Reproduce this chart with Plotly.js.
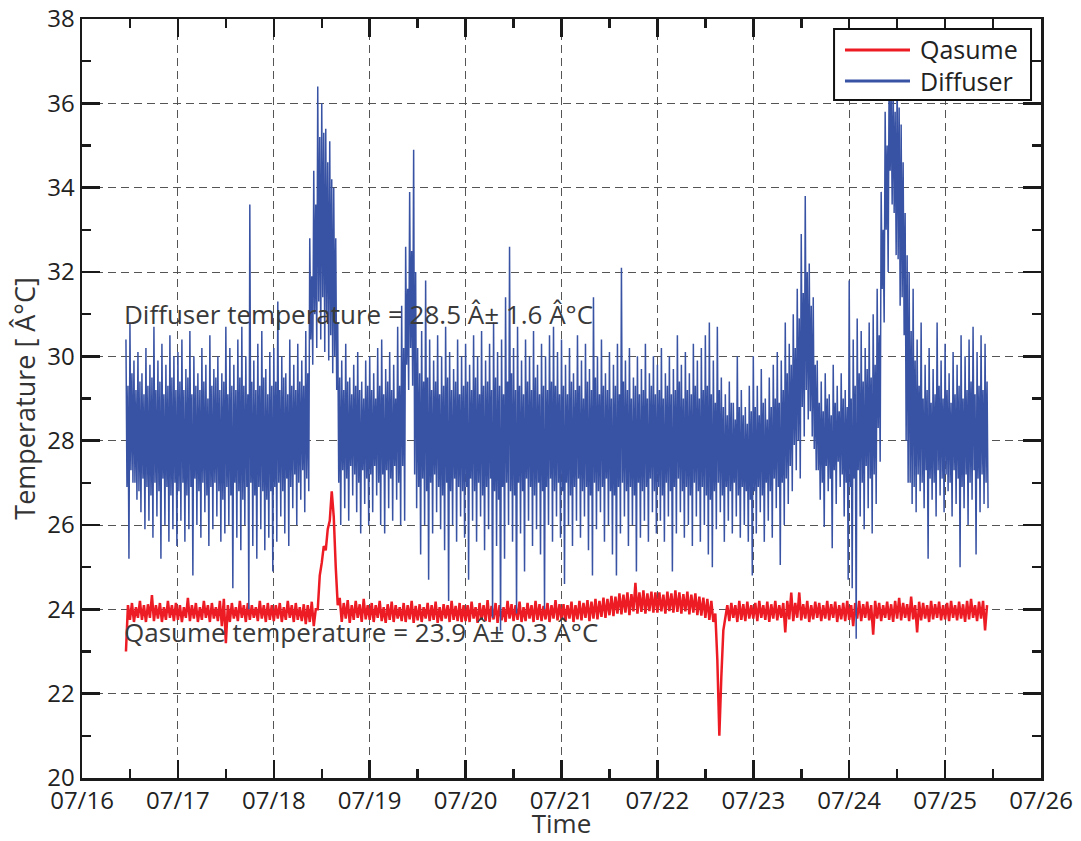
<!DOCTYPE html>
<html><head><meta charset="utf-8">
<script src="https://cdn.plot.ly/plotly-3.0.1.min.js"></script>
<style>body{margin:0;background:#fff}</style>
</head><body><div id="chart" style="width:1081px;height:841px"></div>
<script>
// Hourly samples starting 07/16 11:00 (one entry per hour, 216 hours)
const startTime = Date.UTC(2010, 6, 16, 11, 0, 0);
const stepHours = 1;

// Diffuser: per hour, the extreme high / low readings and the edges of the dense core
const diffuserHi = [
 30.4,30.8,29.9,30.1,29.6,30.2,29.8,30.7,29.9,30.3,29.8,30.5,30.0,
 30.1,30.4,29.7,30.6,30.0,29.6,30.2,29.8,30.5,29.7,30.0,29.6,30.7,30.2,29.8,30.4,30.7,30.0,33.6,29.9,30.3,30.6,29.7,30.1,
 30.2,31.3,30.0,29.6,30.4,29.8,30.3,29.9,30.6,32.8,34.4,36.4,36.0,35.4,35.1,34.0,30.8,29.9,30.3,29.5,29.8,30.1,29.4,29.9,
 30.0,29.6,30.2,30.4,29.7,30.1,29.8,30.7,31.2,32.6,33.9,34.9,30.2,30.6,31.8,30.4,29.9,30.5,30.0,30.7,30.1,29.7,30.4,30.0,
 30.3,29.8,30.5,30.0,30.6,29.9,30.3,30.8,30.1,30.4,31.4,32.6,30.2,30.7,29.9,30.4,30.0,30.6,29.8,30.3,30.0,30.5,30.7,30.1,
 30.4,29.8,30.2,29.6,30.5,29.9,30.3,29.7,31.4,30.0,30.4,29.6,30.1,29.8,30.3,32.1,29.9,30.2,29.5,30.0,29.7,30.3,29.6,30.0,
 29.8,30.2,29.6,30.0,29.7,30.5,29.8,30.1,29.6,30.3,29.9,30.2,30.5,30.8,29.9,30.7,29.5,29.1,29.4,28.9,30.0,29.2,28.8,29.3,
 30.0,29.3,29.7,29.0,29.5,29.8,30.1,29.9,30.8,30.3,31.0,31.6,32.9,33.8,32.2,31.4,29.9,29.4,29.6,29.1,29.8,29.3,29.6,29.2,
 31.8,30.4,30.9,30.6,30.2,30.8,31.0,31.6,33.9,35.8,36.9,36.5,36.7,35.5,33.4,32.0,31.6,30.4,30.8,29.8,30.2,29.7,30.8,29.9,
 30.3,29.6,30.1,29.8,30.5,30.0,30.4,30.7,30.1,30.5,30.3
];
const diffuserCoreLo = [
 26.9,27.3,27.0,26.8,27.1,26.9,26.7,27.0,26.8,27.1,26.9,26.7,27.0,
 26.8,27.0,26.7,26.9,27.1,26.8,27.0,26.7,26.9,27.0,26.8,26.6,26.9,26.7,27.0,26.8,26.6,26.9,27.0,26.7,26.9,26.8,26.6,26.8,
 26.9,27.0,26.8,27.1,26.9,27.2,27.0,27.3,27.1,30.4,31.0,31.3,31.4,31.0,30.5,30.0,27.0,27.3,27.1,27.4,27.2,27.0,27.3,27.1,
 27.2,27.4,27.0,27.2,27.3,27.1,27.4,27.0,27.4,29.8,30.2,27.2,26.9,27.1,26.8,27.0,27.2,26.9,26.7,27.0,26.8,27.1,26.9,26.8,
 26.9,27.1,26.8,27.0,26.7,26.9,27.1,26.8,26.6,26.9,27.0,26.8,26.7,27.0,26.8,27.1,26.9,26.7,27.0,26.8,26.9,27.1,26.8,27.0,
 26.8,27.0,26.7,26.9,27.1,26.8,26.9,26.7,27.0,26.8,26.9,27.1,26.8,26.7,26.9,27.0,26.8,26.9,26.7,27.0,26.8,26.9,27.1,26.8,
 26.9,26.7,27.0,26.8,26.9,27.1,26.8,26.9,26.7,27.0,26.8,26.9,26.7,26.6,26.8,27.0,26.7,26.9,26.8,27.0,26.7,26.9,26.8,26.6,
 26.8,26.9,26.7,27.0,26.8,27.1,26.9,27.0,27.1,27.4,27.9,28.0,28.8,29.2,28.7,27.8,27.3,27.0,27.4,27.1,27.3,27.5,27.2,27.0,
 26.9,27.1,27.3,27.0,27.4,27.1,27.2,28.3,31.6,33.0,34.4,33.4,32.3,31.4,28.0,27.0,26.9,27.2,27.0,27.3,27.1,27.0,27.3,27.1,
 27.2,27.0,27.3,27.1,26.9,27.2,27.0,27.3,27.1,27.2,27.0
];
const diffuserCoreHi = [
 29.3,29.6,29.2,29.4,29.1,29.3,29.5,29.2,29.4,29.1,29.3,29.5,29.2,
 29.4,29.2,29.5,29.1,29.3,29.2,29.4,29.0,29.3,29.5,29.2,29.4,29.1,29.3,29.2,29.5,29.3,29.1,29.4,29.2,29.3,29.5,29.1,29.3,
 29.4,29.2,29.5,29.1,29.3,29.2,29.4,29.3,29.6,31.9,33.6,35.2,35.3,34.6,34.2,32.8,29.5,29.2,29.4,29.1,29.3,29.2,29.0,29.3,
 29.2,29.0,29.3,29.1,29.4,29.2,29.0,29.3,30.2,31.6,32.5,32.0,29.6,29.4,29.5,29.2,29.4,29.1,29.3,29.5,29.2,29.4,29.1,29.3,
 29.4,29.2,29.5,29.1,29.3,29.4,29.2,29.5,29.3,29.1,29.4,29.6,29.2,29.3,29.1,29.4,29.2,29.5,29.1,29.3,29.2,29.4,29.3,29.1,
 29.3,29.1,29.4,29.2,29.3,29.0,29.4,29.2,29.5,29.1,29.3,29.2,29.0,29.3,29.1,29.4,29.2,29.0,29.3,29.1,29.2,29.0,29.3,29.1,
 29.2,29.0,29.3,29.1,29.2,29.4,29.0,29.2,29.1,29.3,29.0,29.2,29.3,29.1,28.9,29.2,28.8,28.6,28.9,28.5,28.8,28.6,28.4,28.7,
 28.8,28.6,28.9,28.5,28.8,29.0,28.9,29.2,29.6,29.8,30.2,30.9,31.5,32.0,31.2,29.8,28.9,28.7,29.0,28.6,28.9,28.7,29.0,28.8,
 29.0,29.3,29.6,29.4,29.7,29.5,29.8,30.5,33.0,35.0,36.2,35.8,35.9,34.6,32.4,30.6,29.9,29.3,29.0,29.2,28.9,29.1,29.3,29.0,
 29.2,28.9,29.1,29.3,29.0,29.2,29.4,29.1,29.3,29.2,29.4
];
const diffuserLo = [
 25.2,27.0,26.6,26.3,25.9,26.1,25.7,26.2,25.2,26.0,25.6,25.9,25.5,
 26.1,25.6,25.9,24.8,26.0,25.7,26.3,25.5,25.9,26.2,25.6,25.8,26.0,24.5,25.7,25.4,26.0,24.0,25.5,25.2,25.9,25.4,25.7,24.9,
 25.6,26.2,25.8,25.5,26.4,26.0,26.6,26.3,26.8,29.8,30.2,30.4,30.1,29.9,29.6,29.2,26.0,26.4,26.1,26.7,26.3,25.8,26.5,26.0,
 26.3,26.7,26.0,25.8,26.4,26.1,26.6,26.0,26.1,29.2,29.3,26.4,25.3,26.0,24.7,25.8,26.3,25.9,25.4,24.2,26.0,25.6,26.2,25.7,
 24.7,26.1,25.6,26.2,25.4,25.9,23.8,25.5,23.5,25.2,26.0,25.6,23.9,25.8,24.9,26.1,25.5,25.9,25.3,24.0,26.0,25.6,26.2,25.7,
 24.6,26.0,25.5,26.1,25.7,26.2,25.4,24.8,25.9,26.3,25.6,26.0,25.3,24.8,25.8,26.2,25.5,26.0,24.9,25.7,26.1,25.6,26.3,25.8,
 26.1,25.6,26.2,24.9,25.8,26.3,25.7,26.0,25.5,26.2,25.6,26.0,25.3,25.0,25.9,26.3,25.6,26.1,25.8,26.2,25.7,26.0,25.6,24.8,
 25.8,26.3,25.6,26.1,25.7,26.4,25.05,26.0,26.5,26.8,27.3,27.1,28.1,28.5,28.1,27.3,26.6,25.95,26.8,25.45,26.5,26.9,26.2,24.7,
 24.5,23.3,26.2,25.9,26.4,25.8,26.5,27.5,30.8,32.0,33.6,32.4,31.2,30.5,27.0,26.5,26.3,26.8,26.4,25.2,26.6,26.2,26.7,26.3,
 26.8,26.2,26.5,25.0,26.4,26.0,26.6,25.3,26.3,26.5,26.4
];

// Qasume: two readings per hour (first, second half-hour)
const qasumeLo = [
 23.0,23.75,23.7,23.8,23.75,23.7,23.8,23.72,23.78,23.7,23.75,23.8,23.72,
 23.75,23.7,23.8,23.72,23.78,23.7,23.75,23.8,23.7,23.78,23.72,23.6,23.2,23.7,23.78,23.72,23.8,23.7,23.75,23.8,23.72,23.78,23.7,23.75,
 23.72,23.78,23.7,23.75,23.8,23.7,23.75,23.72,23.65,23.7,23.6,24.0,25.1,25.4,26.1,26.2,24.1,23.7,23.78,23.68,23.75,23.8,23.7,23.76,
 23.75,23.7,23.8,23.72,23.68,23.75,23.7,23.78,23.72,23.7,23.76,23.68,23.74,23.7,23.78,23.72,23.75,23.68,23.72,23.78,23.7,23.75,23.72,23.7,
 23.72,23.7,23.78,23.68,23.75,23.72,23.7,23.76,23.68,23.74,23.7,23.78,23.72,23.75,23.7,23.72,23.78,23.7,23.75,23.72,23.76,23.7,23.78,23.74,
 23.75,23.72,23.78,23.7,23.76,23.74,23.8,23.72,23.78,23.76,23.82,23.8,23.86,23.84,23.9,23.88,23.92,23.86,23.95,23.9,23.94,23.9,23.96,23.92,
 23.92,23.95,23.9,23.96,23.92,23.94,23.9,23.95,23.88,23.92,23.86,23.85,23.8,23.75,23.7,22.8,22.4,23.8,23.72,23.8,23.7,23.75,23.72,23.78,
 23.78,23.72,23.8,23.75,23.7,23.78,23.74,23.8,23.45,23.76,23.72,23.8,23.74,23.78,23.7,23.76,23.8,23.72,23.78,23.74,23.8,23.7,23.76,23.72,
 23.75,23.6,23.78,23.72,23.8,23.74,23.4,23.78,23.72,23.8,23.75,23.7,23.78,23.74,23.8,23.72,23.76,23.45,23.74,23.78,23.7,23.76,23.8,23.74,
 23.76,23.72,23.8,23.74,23.78,23.7,23.76,23.8,23.72,23.78,23.5
];
const qasumeHi = [
 24.1,24.15,24.05,24.2,24.1,24.12,24.34,24.1,24.15,24.05,24.2,24.1,24.15,
 24.1,24.05,24.27,24.1,24.15,24.05,24.2,24.1,24.15,24.05,24.2,24.25,24.1,24.15,24.05,24.2,24.1,24.15,24.1,24.05,24.2,24.1,24.15,24.1,
 24.1,24.15,24.05,24.2,24.1,24.15,24.05,24.12,24.1,24.18,24.0,24.8,25.5,25.9,26.8,25.0,24.27,24.15,24.22,24.1,24.2,24.12,24.25,24.1,
 24.15,24.1,24.2,24.05,24.12,24.18,24.1,24.05,24.15,24.1,24.2,24.08,24.12,24.05,24.15,24.1,24.18,24.05,24.12,24.1,24.2,24.08,24.15,24.1,
 24.1,24.18,24.05,24.15,24.1,24.22,24.08,24.15,24.1,24.05,24.2,24.12,24.1,24.18,24.05,24.15,24.1,24.2,24.12,24.08,24.15,24.1,24.22,24.12,
 24.12,24.1,24.18,24.1,24.2,24.15,24.22,24.18,24.25,24.2,24.28,24.25,24.32,24.3,24.38,24.35,24.4,24.36,24.63,24.4,24.45,24.38,24.42,24.4,
 24.4,24.35,24.42,24.38,24.45,24.4,24.36,24.42,24.35,24.38,24.3,24.28,24.25,24.2,23.9,21.0,23.5,24.1,24.15,24.1,24.2,24.12,24.18,24.1,
 24.15,24.2,24.1,24.18,24.12,24.2,24.1,24.15,24.2,24.4,24.15,24.4,24.12,24.2,24.1,24.18,24.15,24.1,24.2,24.12,24.18,24.1,24.15,24.2,
 24.1,24.15,24.2,24.12,24.18,24.1,24.2,24.15,24.1,24.18,24.12,24.2,24.27,24.15,24.12,24.3,24.1,24.18,24.15,24.1,24.2,24.12,24.18,24.1,
 24.15,24.2,24.1,24.18,24.12,24.2,24.25,24.1,24.18,24.2,24.1
];

const seriesNames = ['Qasume', 'Diffuser'];
const seriesColors = ['#ED1C24', '#3953A4'];
const noteTexts = ['Diffuser temperature = 28.5 Â± 1.6 Â°C', 'Qasume temperature = 23.9 Â± 0.3 Â°C'];

const H = 3600000;
function interleave(columns) {
  const xs = [], ys = [];
  const n = columns[0].length, k = columns.length;
  for (let i = 0; i < n; i++) {
    const t = startTime + i * stepHours * H;
    for (let j = 0; j < k; j++) {
      xs.push(t + j * H / k);
      ys.push(columns[j][i]);
    }
  }
  return {x: xs, y: ys};
}
const q = interleave([qasumeLo, qasumeHi]);
const d = interleave([diffuserHi, diffuserCoreLo, diffuserCoreHi, diffuserLo]);

const traces = [
  {type: 'scatter', mode: 'lines', name: seriesNames[0], x: q.x, y: q.y,
   line: {color: seriesColors[0], width: 2.5, simplify: false}, showlegend: false},
  {type: 'scatter', mode: 'lines', name: seriesNames[1], x: d.x, y: d.y,
   line: {color: seriesColors[1], width: 1.5, simplify: false}, showlegend: false}
];

const FONT = '"Open Sans", "Liberation Sans", Arial, sans-serif';
const axisCommon = {
  showline: true, linewidth: 2.5, linecolor: '#1a1a1a', mirror: 'allticks',
  ticks: 'inside', ticklen: 18, tickwidth: 2.5, tickcolor: '#1a1a1a',
  showgrid: true, gridcolor: '#555555', gridwidth: 1, griddash: '8px,5px',
  zeroline: false,
  tickfont: {family: FONT, size: 24, color: '#222222'}
};

const layout = {
  width: 1081, height: 841,
  margin: {l: 82, r: 40, t: 19, b: 63},
  paper_bgcolor: '#ffffff', plot_bgcolor: '#ffffff',
  showlegend: false,
  xaxis: Object.assign({}, axisCommon, {
    type: 'date',
    range: [Date.UTC(2010, 6, 16), Date.UTC(2010, 6, 26)],
    dtick: 86400000, tick0: Date.UTC(2010, 6, 16), tickformat: '%m/%d',
    minor: {dtick: 43200000, tick0: Date.UTC(2010, 6, 16), ticks: 'inside', ticklen: 9, tickwidth: 2.5, tickcolor: '#1a1a1a', showgrid: false},
    title: {text: 'Time', font: {family: FONT, size: 26, color: '#333333'}, standoff: 8},
    automargin: false
  }),
  yaxis: Object.assign({}, axisCommon, {
    range: [20, 38], dtick: 2, tick0: 20,
    minor: {dtick: 1, tick0: 20, ticks: 'inside', ticklen: 9, tickwidth: 2.5, tickcolor: '#1a1a1a', showgrid: false},
    title: {text: 'Temperature [ Â°C]', font: {family: FONT, size: 27, color: '#333333'}, standoff: 4},
    automargin: false
  }),
  shapes: [
    {type: 'rect', xref: 'paper', yref: 'paper', x0: 0.7842, x1: 0.9896, y0: 0.8933, y1: 0.9868,
     fillcolor: '#ffffff', line: {color: '#111111', width: 2}, layer: 'above'},
    {type: 'line', xref: 'paper', yref: 'paper', x0: 0.7956, x1: 0.8634, y0: 0.9592, y1: 0.9592,
     line: {color: seriesColors[0], width: 3}, layer: 'above'},
    {type: 'line', xref: 'paper', yref: 'paper', x0: 0.7956, x1: 0.8634, y0: 0.9183, y1: 0.9183,
     line: {color: seriesColors[1], width: 3}, layer: 'above'}
  ],
  annotations: [
    {xref: 'paper', yref: 'paper', x: 0.8717, y: 0.9605, xanchor: 'left', yanchor: 'middle', showarrow: false,
     text: seriesNames[0], font: {family: FONT, size: 25, color: '#222222'}},
    {xref: 'paper', yref: 'paper', x: 0.8717, y: 0.9183, xanchor: 'left', yanchor: 'middle', showarrow: false,
     text: seriesNames[1], font: {family: FONT, size: 25, color: '#222222'}},
    {xref: 'paper', yref: 'paper', x: 0.0417, y: 0.6113, xanchor: 'left', yanchor: 'middle', showarrow: false,
     text: noteTexts[0], font: {family: FONT, size: 26, color: '#3a3a3a'}},
    {xref: 'paper', yref: 'paper', x: 0.0417, y: 0.1924, xanchor: 'left', yanchor: 'middle', showarrow: false,
     text: noteTexts[1], font: {family: FONT, size: 26, color: '#3a3a3a'}}
  ]
};

Plotly.newPlot('chart', traces, layout, {displayModeBar: false, staticPlot: true});
</script>
</body></html>
